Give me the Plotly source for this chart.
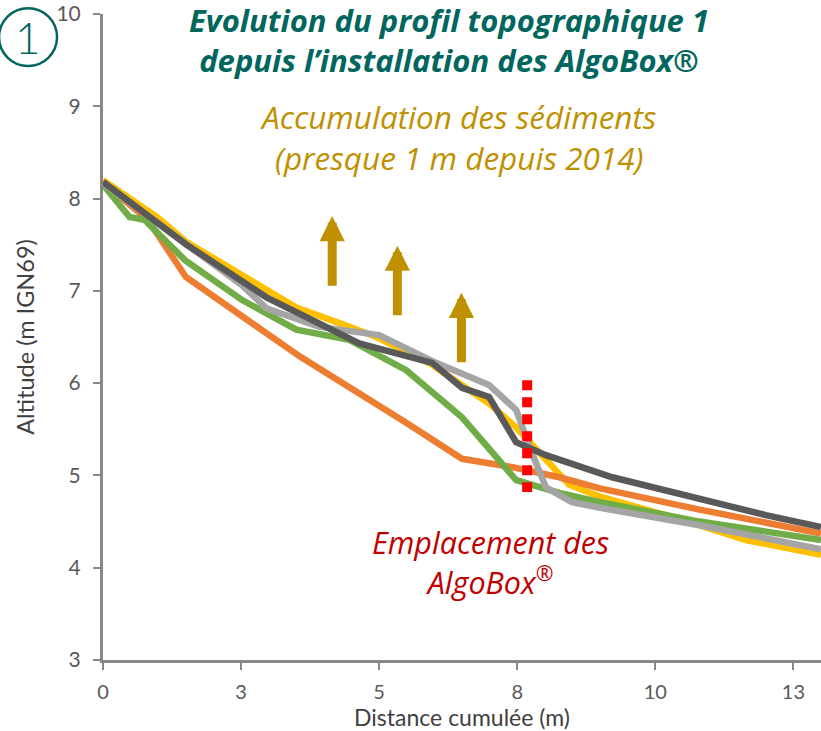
import plotly.graph_objects as go

# ---------------- data ----------------
orange_x = [0, 0.8, 1.5, 3.56, 5.49, 6.5, 7.41, 8.26, 9.0, 10.8, 13.0]
orange_y = [8.17, 7.78, 7.15, 6.29, 5.57, 5.18, 5.09, 4.98, 4.86, 4.63, 4.37]

yellow_x = [0, 0.98, 1.51, 3.5, 4.28, 4.95, 5.96, 6.99, 7.48, 8.08, 8.44, 9.0, 10.48, 11.64, 13.0]
yellow_y = [8.20, 7.80, 7.53, 6.82, 6.65, 6.50, 6.20, 5.78, 5.52, 5.13, 4.90, 4.77, 4.52, 4.30, 4.14]

green_x = [0, 0.48, 0.75, 1.49, 2.52, 3.5, 4.46, 5.49, 6.5, 7.48, 8.26, 9.0, 10.8, 13.0]
green_y = [8.15, 7.80, 7.77, 7.33, 6.90, 6.58, 6.47, 6.14, 5.63, 4.95, 4.81, 4.71, 4.50, 4.30]

lgray_x = [0, 1.51, 2.52, 2.96, 3.92, 5.0, 6.03, 6.99, 7.48, 7.77, 8.02, 8.49, 9.0, 10.8, 13.0]
lgray_y = [8.17, 7.50, 7.06, 6.81, 6.61, 6.52, 6.22, 5.98, 5.71, 5.24, 4.87, 4.71, 4.65, 4.46, 4.20]

dgray_x = [0, 1.51, 2.96, 4.28, 4.64, 5.96, 6.5, 6.99, 7.48, 8.02, 9.22, 12.0, 13.0]
dgray_y = [8.18, 7.50, 6.93, 6.54, 6.43, 6.22, 5.95, 5.85, 5.36, 5.22, 4.98, 4.57, 4.44]

algobox_x = [7.68, 7.68]
algobox_y = [6.03, 4.82]

arrow_x = [4.15, 5.33, 6.49]
arrow_tip = [7.81, 7.49, 6.98]
arrow_base = [7.04, 6.72, 6.21]

x_tickvals = [0, 2.5, 5, 7.5, 10, 12.5]
x_ticktext = ["0", "3", "5", "8", "10", "13"]
y_tickvals = [3, 4, 5, 6, 7, 8, 9, 10]

TEAL = "#00665E"
GOLD = "#BF9000"
DARKRED = "#C00000"
AXIS = "#878787"
FONT = "Lato"

fig = go.Figure()

series = [
    (yellow_x, yellow_y, "#FFC000"),
    (orange_x, orange_y, "#ED7D31"),
    (green_x, green_y, "#70AD47"),
    (lgray_x, lgray_y, "#A5A5A5"),
    (dgray_x, dgray_y, "#595959"),
]
for xs, ys, c in series:
    fig.add_trace(go.Scatter(x=xs, y=ys, mode="lines",
                             line=dict(color=c, width=6.5),
                             showlegend=False, hoverinfo="skip"))

fig.add_trace(go.Scatter(x=algobox_x, y=algobox_y, mode="lines",
                         line=dict(color="#FF0000", width=10, dash="10px,7px"),
                         showlegend=False, hoverinfo="skip"))

annotations = []
for xa, yt, yb in zip(arrow_x, arrow_tip, arrow_base):
    annotations.append(dict(x=xa, y=yt, ax=xa, ay=yb, xref="x", yref="y",
                            axref="x", ayref="y", text="", showarrow=True,
                            arrowhead=2, arrowwidth=9, arrowsize=0.56,
                            arrowcolor=GOLD, standoff=0, startstandoff=0))

annotations += [
    dict(xref="paper", yref="paper", x=0.482, y=0.959,
         text="Evolution du profil topographique 1<br>depuis l’installation des AlgoBox®",
         showarrow=False, xanchor="center", yanchor="middle",
         font=dict(family="Open Sans", size=31, color=TEAL, weight="bold", style="italic")),
    dict(xref="paper", yref="paper", x=0.494, y=0.810,
         text="Accumulation des sédiments<br>(presque 1 m depuis 2014)",
         showarrow=False, xanchor="center", yanchor="middle",
         font=dict(family="Open Sans", size=31.5, color=GOLD, style="italic")),
    dict(xref="paper", yref="paper", x=0.540, y=0.152,
         text="Emplacement des<br>AlgoBox<sup>®</sup>",
         showarrow=False, xanchor="center", yanchor="middle",
         font=dict(family="Open Sans", size=30.5, color=DARKRED, style="italic")),
    dict(xref="paper", yref="paper", x=-0.1045, y=0.964, text="1",
         showarrow=False, xanchor="center", yanchor="middle",
         font=dict(family=FONT, size=44, color=TEAL, weight=300)),
]

fig.update_layout(
    width=821, height=731,
    margin=dict(l=103, r=0, t=14, b=71),
    paper_bgcolor="white", plot_bgcolor="white",
    showlegend=False,
    annotations=annotations,
    shapes=[dict(type="circle", xref="paper", yref="paper",
                 x0=-0.1448, x1=-0.064, y0=0.9195, y1=1.009,
                 line=dict(color=TEAL, width=2.5))],
    xaxis=dict(range=[0, 13], tickvals=x_tickvals, ticktext=x_ticktext,
               showgrid=False, zeroline=False, showline=True,
               linecolor=AXIS, linewidth=3, ticks="outside", ticklen=7,
               tickwidth=2, tickcolor=AXIS, ticklabelstandoff=5,
               tickfont=dict(family=FONT, size=20, color="#595959"),
               title=dict(text="Distance cumulée (m)", standoff=3,
                          font=dict(family=FONT, size=23, color="#404040"))),
    yaxis=dict(range=[3, 10], tickvals=y_tickvals,
               showgrid=False, zeroline=False, showline=True,
               linecolor=AXIS, linewidth=3, ticks="outside", ticklen=7,
               tickwidth=2, tickcolor=AXIS, ticklabelstandoff=8,
               tickfont=dict(family=FONT, size=21, color="#595959"),
               title=dict(text="Altitude (m IGN69)", standoff=16,
                          font=dict(family=FONT, size=23.5, color="#404040"))),
)

fig.write_html("out.html", config={"displayModeBar": False},
               post_script="document.body.style.margin='0';document.body.style.overflow='hidden';")
